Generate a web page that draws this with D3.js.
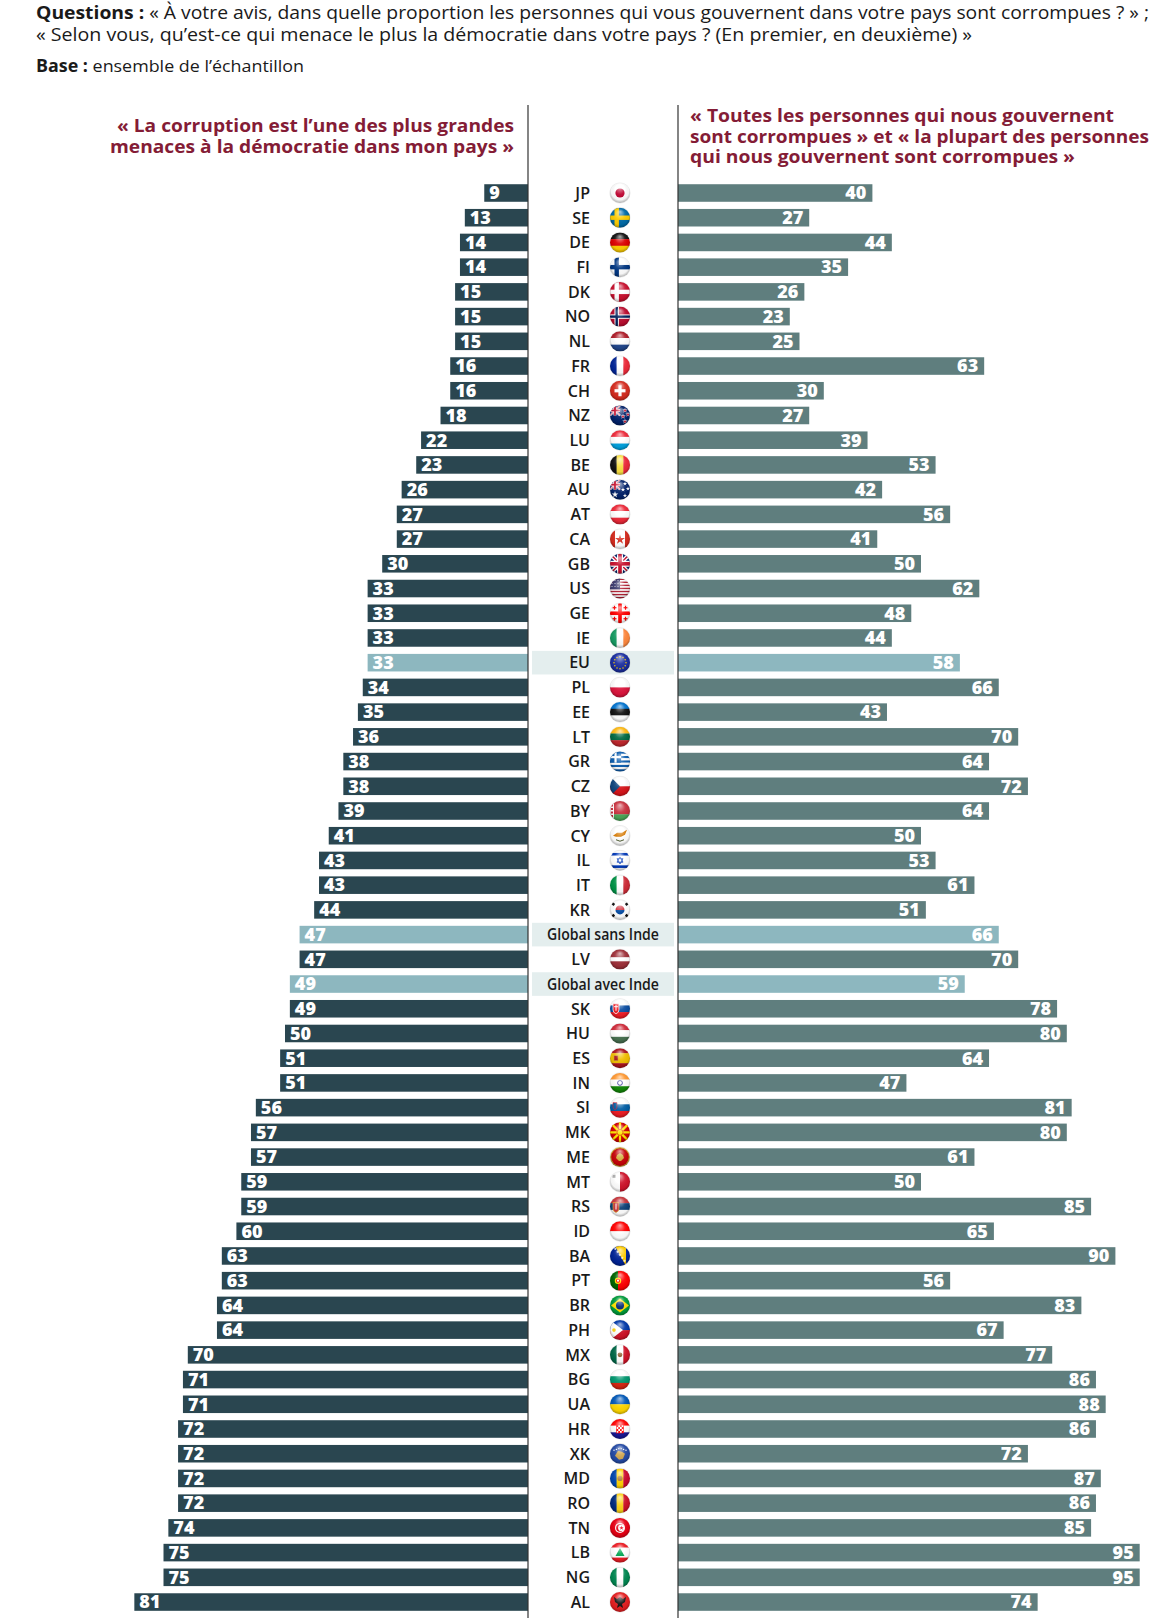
<!DOCTYPE html>
<html>
<head>
<meta charset="utf-8">
<style>
  body { margin: 0; background: #fff; }
  svg { display: block; font-family: "Open Sans", "DejaVu Sans", sans-serif; }
</style>
<script src="https://d3js.org/d3.v7.min.js"></script>
</head>
<body>
<svg width="1174" height="1618"></svg>
<script>
// --- data ---
var codes = ["JP","SE","DE","FI","DK","NO","NL","FR","CH","NZ",
  "LU","BE","AU","AT","CA","GB","US","GE","IE","EU",
  "PL","EE","LT","GR","CZ","BY","CY","IL","IT","KR",
  "Global sans Inde","LV","Global avec Inde","SK","HU","ES","IN","SI","MK","ME",
  "MT","RS","ID","BA","PT","BR","PH","MX","BG","UA",
  "HR","XK","MD","RO","TN","LB","NG","AL"];
// « La corruption est l'une des plus grandes menaces à la démocratie dans mon pays »
var menace = [9,13,14,14,15,15,15,16,16,18,
  22,23,26,27,27,30,33,33,33,33,
  34,35,36,38,38,39,41,43,43,44,
  47,47,49,49,50,51,51,56,57,57,
  59,59,60,63,63,64,64,70,71,71,
  72,72,72,72,74,75,75,81];
// « Toutes / la plupart des personnes qui nous gouvernent sont corrompues »
var corrompus = [40,27,44,35,26,23,25,63,30,27,
  39,53,42,56,41,50,62,48,44,58,
  66,43,70,64,72,64,50,53,61,51,
  66,70,59,78,80,64,47,81,80,61,
  50,85,65,90,56,83,67,77,86,88,
  86,72,87,86,85,95,95,74];
var groupes = ["EU","Global sans Inde","Global avec Inde"];
var sansDrapeau = ["Global sans Inde","Global avec Inde"];

var rows = codes.map(function(c, i) {
  return {code: c, menace: menace[i], corrompus: corrompus[i]};
});

var svg = d3.select("svg");
var axeG = 528, axeD = 678, unit = 4.86;
var red = "#841c36";
var pas = 24.72, premier = 193;

var y = d3.scaleBand()
  .domain(codes)
  .range([premier - pas / 2, premier + 57.5 * pas])
  .paddingInner(0.29)
  .paddingOuter(0.145);

var xG = d3.scaleLinear().domain([0, 100]).range([axeG, axeG - 100 * unit]);
var xD = d3.scaleLinear().domain([0, 100]).range([axeD, axeD + 100 * unit]);

function mid(c) { return y(c) + y.bandwidth() / 2; }
function couleur(c, base) { return groupes.indexOf(c) >= 0 ? "#8db7bf" : base; }

// --- header ---
var h1 = svg.append("text").attr("x", 36).attr("y", 19).attr("font-size", 18)
  .attr("fill", "#1a1a1a").attr("textLength", 1113).attr("lengthAdjust", "spacingAndGlyphs");
h1.append("tspan").attr("font-weight", 700).text("Questions : ");
h1.append("tspan").text("« À votre avis, dans quelle proportion les personnes qui vous gouvernent dans votre pays sont corrompues ? » ;");
svg.append("text").attr("x", 36).attr("y", 41).attr("font-size", 18).attr("fill", "#1a1a1a")
  .attr("textLength", 936).attr("lengthAdjust", "spacingAndGlyphs")
  .text("« Selon vous, qu’est-ce qui menace le plus la démocratie dans votre pays ? (En premier, en deuxième) »");
var h3 = svg.append("text").attr("x", 36).attr("y", 72).attr("font-size", 17).attr("fill", "#1a1a1a")
  .attr("textLength", 268).attr("lengthAdjust", "spacingAndGlyphs");
h3.append("tspan").attr("font-weight", 700).text("Base : ");
h3.append("tspan").text("ensemble de l’échantillon");

// --- titles ---
var titreG = [["« La corruption est l’une des plus grandes", 397], ["menaces à la démocratie dans mon pays »", 404]];
var titreD = [["« Toutes les personnes qui nous gouvernent", 424], ["sont corrompues » et « la plupart des personnes", 459], ["qui nous gouvernent sont corrompues »", 385]];
titreG.forEach(function(t, i) {
  svg.append("text").attr("x", 514).attr("y", 132 + i * 20.5).attr("text-anchor", "end")
    .attr("font-size", 17).attr("font-weight", 700).attr("fill", red)
    .attr("textLength", t[1]).attr("lengthAdjust", "spacingAndGlyphs").text(t[0]);
});
titreD.forEach(function(t, i) {
  svg.append("text").attr("x", 690).attr("y", 122 + i * 20.5)
    .attr("font-size", 17).attr("font-weight", 700).attr("fill", red)
    .attr("textLength", t[1]).attr("lengthAdjust", "spacingAndGlyphs").text(t[0]);
});

// --- highlight bands in centre ---
svg.append("g").selectAll("rect").data(rows.filter(function(d) { return groupes.indexOf(d.code) >= 0; }))
  .join("rect")
  .attr("x", 532).attr("width", 142)
  .attr("y", function(d) { return mid(d.code) - 11.8; }).attr("height", 23.6)
  .attr("fill", "#e4eeee");

// --- bars ---
svg.append("g").selectAll("rect").data(rows).join("rect")
  .attr("x", function(d) { return xG(d.menace); })
  .attr("width", function(d) { return axeG - xG(d.menace); })
  .attr("y", function(d) { return y(d.code); })
  .attr("height", y.bandwidth())
  .attr("fill", function(d) { return couleur(d.code, "#2a4650"); });

svg.append("g").selectAll("rect").data(rows).join("rect")
  .attr("x", axeD)
  .attr("width", function(d) { return xD(d.corrompus) - axeD; })
  .attr("y", function(d) { return y(d.code); })
  .attr("height", y.bandwidth())
  .attr("fill", function(d) { return couleur(d.code, "#5f7e7e"); });

var lab = svg.append("g").attr("fill", "#fff").attr("font-size", 18).attr("font-weight", 800);
lab.selectAll("text.g").data(rows).join("text").attr("class", "g")
  .attr("x", function(d) { return xG(d.menace) + 5; })
  .attr("y", function(d) { return mid(d.code) + 6.3; })
  .text(function(d) { return d.menace; });
lab.selectAll("text.d").data(rows).join("text").attr("class", "d")
  .attr("x", function(d) { return xD(d.corrompus) - 6; })
  .attr("y", function(d) { return mid(d.code) + 6.3; })
  .attr("text-anchor", "end")
  .text(function(d) { return d.corrompus; });

// --- axis lines ---
[axeG, axeD].forEach(function(x) {
  svg.append("line").attr("x1", x).attr("x2", x).attr("y1", 105).attr("y2", 1618)
    .attr("stroke", "#333").attr("stroke-width", 1.2);
});

// --- country codes ---
var lc = svg.append("g").attr("fill", "#1a1a1a").attr("font-size", 16).attr("font-weight", 600);
lc.selectAll("text").data(rows).join("text")
  .attr("x", function(d) { return sansDrapeau.indexOf(d.code) >= 0 ? 603 : 590; })
  .attr("y", function(d) { return mid(d.code) + 5.8; })
  .attr("text-anchor", function(d) { return sansDrapeau.indexOf(d.code) >= 0 ? "middle" : "end"; })
  .attr("font-size", function(d) { return sansDrapeau.indexOf(d.code) >= 0 ? 15.5 : 16; })
  .attr("textLength", function(d) { return sansDrapeau.indexOf(d.code) >= 0 ? 112 : null; })
  .attr("lengthAdjust", "spacingAndGlyphs")
  .text(function(d) { return d.code; });

// --- flags ---
var defs = svg.append("defs");
defs.append("clipPath").attr("id", "rond").append("circle").attr("r", 10);
var gl = defs.append("radialGradient").attr("id", "gloss")
  .attr("cx", "50%").attr("cy", "45%").attr("r", "55%").attr("fx", "50%").attr("fy", "20%");
[[0, "#fff", 0.65], [0.45, "#fff", 0.08], [0.8, "#000", 0.04], [1, "#000", 0.32]].forEach(function(s) {
  gl.append("stop").attr("offset", s[0]).attr("stop-color", s[1]).attr("stop-opacity", s[2]);
});

function R(g, x, yy, w, h, f) { return g.append("rect").attr("x", x).attr("y", yy).attr("width", w).attr("height", h).attr("fill", f); }
function C(g, cx, cy, r, f) { return g.append("circle").attr("cx", cx).attr("cy", cy).attr("r", r).attr("fill", f); }
function P(g, d, f) { return g.append("path").attr("d", d).attr("fill", f); }
function st(g, dir, cols, wts) {
  wts = wts || cols.map(function() { return 1; });
  var tot = d3.sum(wts), pos = -10;
  cols.forEach(function(c, i) {
    var s = 20 * wts[i] / tot;
    if (dir === "h") R(g, -10, pos, 20, s + 0.2, c); else R(g, pos, -10, s + 0.2, 20, c);
    pos += s;
  });
}
function nordic(g, bg, c1, c2) {
  R(g, -10, -10, 20, 20, bg);
  R(g, -5.5, -10, 4.4, 20, c1); R(g, -10, -2.2, 20, 4.4, c1);
  if (c2) { R(g, -4.5, -10, 2.4, 20, c2); R(g, -10, -1.2, 20, 2.4, c2); }
}
function uj(g, x, yy, w, h) {
  R(g, x, yy, w, h, "#012169");
  g.append("path").attr("d", "M" + x + "," + yy + "L" + (x + w) + "," + (yy + h) + "M" + (x + w) + "," + yy + "L" + x + "," + (yy + h))
    .attr("stroke", "#fff").attr("stroke-width", w * 0.2);
  g.append("path").attr("d", "M" + x + "," + yy + "L" + (x + w) + "," + (yy + h) + "M" + (x + w) + "," + yy + "L" + x + "," + (yy + h))
    .attr("stroke", "#c8102e").attr("stroke-width", w * 0.07);
  R(g, x + w * 0.35, yy, w * 0.3, h, "#fff"); R(g, x, yy + h * 0.35, w, h * 0.3, "#fff");
  R(g, x + w * 0.41, yy, w * 0.18, h, "#c8102e"); R(g, x, yy + h * 0.41, w, h * 0.18, "#c8102e");
}
function star(g, x, yy, s, f) {
  g.append("path").attr("transform", "translate(" + x + "," + yy + ")")
    .attr("d", d3.symbol(d3.symbolStar, s)()).attr("fill", f);
}

var flags = {
  JP: function(g) { R(g, -10, -10, 20, 20, "#fff"); C(g, 0, 0, 4.6, "#bc002d"); },
  SE: function(g) { nordic(g, "#006aa7", "#fecc00"); },
  DE: function(g) { st(g, "h", ["#111", "#dd0000", "#ffce00"]); },
  FI: function(g) { nordic(g, "#fff", "#003580"); },
  DK: function(g) { nordic(g, "#c8102e", "#fff"); },
  NO: function(g) { nordic(g, "#ba0c2f", "#fff", "#00205b"); },
  NL: function(g) { st(g, "h", ["#ae1c28", "#fff", "#21468b"]); },
  FR: function(g) { st(g, "v", ["#002395", "#fff", "#ed2939"]); },
  CH: function(g) { R(g, -10, -10, 20, 20, "#d52b1e"); R(g, -1.6, -5.5, 3.2, 11, "#fff"); R(g, -5.5, -1.6, 11, 3.2, "#fff"); },
  NZ: function(g) { R(g, -10, -10, 20, 20, "#012169"); uj(g, -10, -10, 10, 10);
    [[5, -5], [8, -1], [3, 1], [5, 6]].forEach(function(p) { star(g, p[0], p[1], 9, "#fff"); star(g, p[0], p[1], 4, "#c8102e"); }); },
  LU: function(g) { st(g, "h", ["#ed2939", "#fff", "#00a1de"]); },
  BE: function(g) { st(g, "v", ["#111", "#fae042", "#ed2939"]); },
  AU: function(g) { R(g, -10, -10, 20, 20, "#012169"); uj(g, -10, -10, 10, 10);
    star(g, -5, 5, 14, "#fff"); [[5, -6], [8, -1], [3, 0], [5, 6]].forEach(function(p) { star(g, p[0], p[1], 6, "#fff"); }); },
  AT: function(g) { st(g, "h", ["#ed2939", "#fff", "#ed2939"]); },
  CA: function(g) { st(g, "v", ["#d52b1e", "#fff", "#d52b1e"], [1, 2, 1]); star(g, 0, 0.5, 30, "#d52b1e"); },
  GB: function(g) { uj(g, -10, -10, 20, 20); },
  US: function(g) { for (var i = 0; i < 13; i++) R(g, -10, -10 + i * 20 / 13, 20, 20 / 13 + 0.1, i % 2 ? "#fff" : "#b22234");
    R(g, -10, -10, 10, 10.8, "#3c3b6e");
    for (var a = 0; a < 3; a++) for (var b = 0; b < 3; b++) C(g, -8 + a * 3, -8 + b * 3, 0.5, "#fff"); },
  GE: function(g) { R(g, -10, -10, 20, 20, "#fff"); R(g, -1.8, -10, 3.6, 20, "#ff0000"); R(g, -10, -1.8, 20, 3.6, "#ff0000");
    [[-5.5, -5.5], [5.5, -5.5], [-5.5, 5.5], [5.5, 5.5]].forEach(function(p) { R(g, p[0] - 0.6, p[1] - 2, 1.2, 4, "#ff0000"); R(g, p[0] - 2, p[1] - 0.6, 4, 1.2, "#ff0000"); }); },
  IE: function(g) { st(g, "v", ["#169b62", "#fff", "#ff883e"]); },
  EU: function(g) { R(g, -10, -10, 20, 20, "#1a2ea0");
    d3.range(12).forEach(function(k) { var a = k * Math.PI / 6; C(g, 6 * Math.cos(a), 6 * Math.sin(a), 0.75, "#ffcc00"); }); },
  PL: function(g) { st(g, "h", ["#fff", "#dc143c"]); },
  EE: function(g) { st(g, "h", ["#0072ce", "#111", "#fff"]); },
  LT: function(g) { st(g, "h", ["#fdb913", "#006a44", "#c1272d"]); },
  GR: function(g) { for (var i = 0; i < 9; i++) R(g, -10, -10 + i * 20 / 9, 20, 20 / 9 + 0.1, i % 2 ? "#fff" : "#0d5eaf");
    R(g, -10, -10, 11.1, 11.1, "#0d5eaf"); R(g, -10, -5.55, 11.1, 2.2, "#fff"); R(g, -5.55, -10, 2.2, 11.1, "#fff"); },
  CZ: function(g) { st(g, "h", ["#fff", "#d7141a"]); P(g, "M-10,-10L0,0L-10,10Z", "#11457e"); },
  BY: function(g) { st(g, "h", ["#c8313e", "#4aa657"], [2, 1]); R(g, -10, -10, 4, 20, "#fff");
    g.append("line").attr("x1", -8).attr("x2", -8).attr("y1", -10).attr("y2", 10).attr("stroke", "#c8313e").attr("stroke-width", 2).attr("stroke-dasharray", "2,1.5"); },
  CY: function(g) { R(g, -10, -10, 20, 20, "#fff"); P(g, "M-7,0L-3,-3L2,-3L7,-6L5,-1L1,1L-4,1Z", "#d57800");
    g.append("path").attr("d", "M-4,4Q0,7 4,4").attr("fill", "none").attr("stroke", "#4e5b31").attr("stroke-width", 1); },
  IL: function(g) { R(g, -10, -10, 20, 20, "#fff"); R(g, -10, -7.5, 20, 2.6, "#0038b8"); R(g, -10, 4.9, 20, 2.6, "#0038b8");
    g.append("path").attr("d", "M0,-3.5L3,1.75L-3,1.75ZM0,3.5L3,-1.75L-3,-1.75Z").attr("fill", "none").attr("stroke", "#0038b8").attr("stroke-width", 0.8); },
  IT: function(g) { st(g, "v", ["#009246", "#fff", "#ce2b37"]); },
  KR: function(g) { R(g, -10, -10, 20, 20, "#fff"); P(g, "M-4.5,0A4.5,4.5 0 0,1 4.5,0Z", "#cd2e3a"); P(g, "M-4.5,0A4.5,4.5 0 0,0 4.5,0Z", "#0047a0");
    [[-7, -6, 40], [7, -6, -40], [-7, 6, -40], [7, 6, 40]].forEach(function(p) {
      g.append("rect").attr("x", -1.8).attr("y", -1.2).attr("width", 3.6).attr("height", 2.4).attr("fill", "#111")
        .attr("transform", "translate(" + p[0] + "," + p[1] + ") rotate(" + p[2] + ")"); }); },
  LV: function(g) { st(g, "h", ["#9e3039", "#fff", "#9e3039"], [2, 1, 2]); },
  SK: function(g) { st(g, "h", ["#fff", "#0b4ea2", "#ee1c25"]); P(g, "M-7,-5L-1,-5L-1,1Q-1,4 -4,5Q-7,4 -7,1Z", "#ee1c25").attr("stroke", "#fff").attr("stroke-width", 0.8);
    R(g, -4.5, -4, 1, 6, "#fff"); R(g, -6, -2.5, 4, 0.9, "#fff"); },
  HU: function(g) { st(g, "h", ["#ce2939", "#fff", "#477050"]); },
  ES: function(g) { st(g, "h", ["#aa151b", "#f1bf00", "#aa151b"], [1, 2, 1]); R(g, -6, -2.5, 4, 5, "#aa151b").attr("stroke", "#c8a032").attr("stroke-width", 0.6); },
  IN: function(g) { st(g, "h", ["#ff9933", "#fff", "#138808"]); g.append("circle").attr("r", 2.4).attr("fill", "none").attr("stroke", "#000080").attr("stroke-width", 0.7); },
  SI: function(g) { st(g, "h", ["#fff", "#005da4", "#ed1c24"]); P(g, "M-7,-5L-3,-5L-3,-1Q-3,1.5 -5,2Q-7,1.5 -7,-1Z", "#005da4").attr("stroke", "#ed1c24").attr("stroke-width", 0.6); },
  MK: function(g) { R(g, -10, -10, 20, 20, "#d20000");
    d3.range(8).forEach(function(k) { var a = k * Math.PI / 4; g.append("line").attr("x1", 0).attr("y1", 0).attr("x2", 14 * Math.cos(a)).attr("y2", 14 * Math.sin(a)).attr("stroke", "#ffe600").attr("stroke-width", 2.2); });
    C(g, 0, 0, 3, "#ffe600").attr("stroke", "#d20000").attr("stroke-width", 0.6); },
  ME: function(g) { C(g, 0, 0, 10, "#d3ae3b"); C(g, 0, 0, 8.8, "#c40308"); P(g, "M0,-4L3,-2L4,1L1,4L-1,4L-4,1L-3,-2Z", "#d3ae3b"); },
  MT: function(g) { st(g, "v", ["#fff", "#cf142b"]); R(g, -7.5, -7, 3, 3, "#b0b0b0"); },
  RS: function(g) { st(g, "h", ["#c6363c", "#0c4076", "#fff"]); P(g, "M-7,-4L-1,-4L-1,2Q-1,5 -4,6Q-7,5 -7,2Z", "#c6363c").attr("stroke", "#edb92e").attr("stroke-width", 0.6); R(g, -4.5, -3, 1, 6, "#fff"); },
  ID: function(g) { st(g, "h", ["#ff0000", "#fff"]); },
  BA: function(g) { R(g, -10, -10, 20, 20, "#002395"); P(g, "M-5,-10L6,-10L6,10Z", "#fecb00");
    d3.range(7).forEach(function(k) { star(g, -7 + k * 2.3, -10 + k * 3, 3, "#fff"); }); },
  PT: function(g) { st(g, "v", ["#006600", "#ff0000"], [2, 3]); C(g, -2, 0, 3.2, "#ffe000"); C(g, -2, 0, 2, "#ff0000"); C(g, -2, 0, 1.1, "#fff"); },
  BR: function(g) { R(g, -10, -10, 20, 20, "#009c3b"); P(g, "M-9,0L0,-7L9,0L0,7Z", "#ffdf00"); C(g, 0, 0, 4, "#002776"); },
  PH: function(g) { st(g, "h", ["#0038a8", "#ce1126"]); P(g, "M-10,-10L3,0L-10,10Z", "#fff"); C(g, -6, 0, 1.8, "#fcd116"); },
  MX: function(g) { st(g, "v", ["#006847", "#fff", "#ce1126"]); C(g, 0, 0, 2.4, "#8c5a2b"); },
  BG: function(g) { st(g, "h", ["#fff", "#00966e", "#d62612"]); },
  UA: function(g) { st(g, "h", ["#0057b7", "#ffd700"]); },
  HR: function(g) { st(g, "h", ["#ff0000", "#fff", "#171796"]); R(g, -3.5, -4, 7, 8, "#fff").attr("stroke", "#ff0000").attr("stroke-width", 0.6);
    for (var a = 0; a < 4; a++) for (var b = 0; b < 4; b++) if ((a + b) % 2 === 0) R(g, -3.5 + a * 1.75, -4 + b * 2, 1.75, 2, "#ff0000"); },
  XK: function(g) { R(g, -10, -10, 20, 20, "#244aa5"); P(g, "M-5,2L-2,-3L2,-2L5,0L3,5L-1,6Z", "#d0a650");
    d3.range(6).forEach(function(k) { C(g, -6 + k * 2.4, -5.5 + Math.abs(k - 2.5) * 0.8, 0.7, "#fff"); }); },
  MD: function(g) { st(g, "v", ["#0046ae", "#ffd200", "#cc092f"]); C(g, 0, 0, 2.6, "#b07e3a"); },
  RO: function(g) { st(g, "v", ["#002b7f", "#fcd116", "#ce1126"]); },
  TN: function(g) { R(g, -10, -10, 20, 20, "#e70013"); C(g, 0, 0, 5, "#fff"); C(g, 0, 0, 3.8, "#e70013"); C(g, 1.2, 0, 3.1, "#fff"); star(g, 1.5, 0, 6, "#e70013"); },
  LB: function(g) { st(g, "h", ["#ed1c24", "#fff", "#ed1c24"], [1, 2, 1]); P(g, "M0,-4.5L4.5,3.5L-4.5,3.5Z", "#00a651"); },
  NG: function(g) { st(g, "v", ["#008751", "#fff", "#008751"]); },
  AL: function(g) { R(g, -10, -10, 20, 20, "#e41e20"); P(g, "M0,-5L3,-3L6,-5L5,0L2,2L3,6L0,4L-3,6L-2,2L-5,0L-6,-5L-3,-3Z", "#111"); }
};

var fg = svg.append("g");
rows.filter(function(d) { return flags[d.code]; }).forEach(function(d) {
  var g0 = fg.append("g").attr("transform", "translate(620," + mid(d.code) + ")");
  g0.append("circle").attr("r", 10.6).attr("fill", "#000").attr("opacity", 0.08);
  var g = g0.append("g").attr("clip-path", "url(#rond)");
  flags[d.code](g);
  g0.append("circle").attr("r", 10).attr("fill", "url(#gloss)");
});
</script>
</body>
</html>
